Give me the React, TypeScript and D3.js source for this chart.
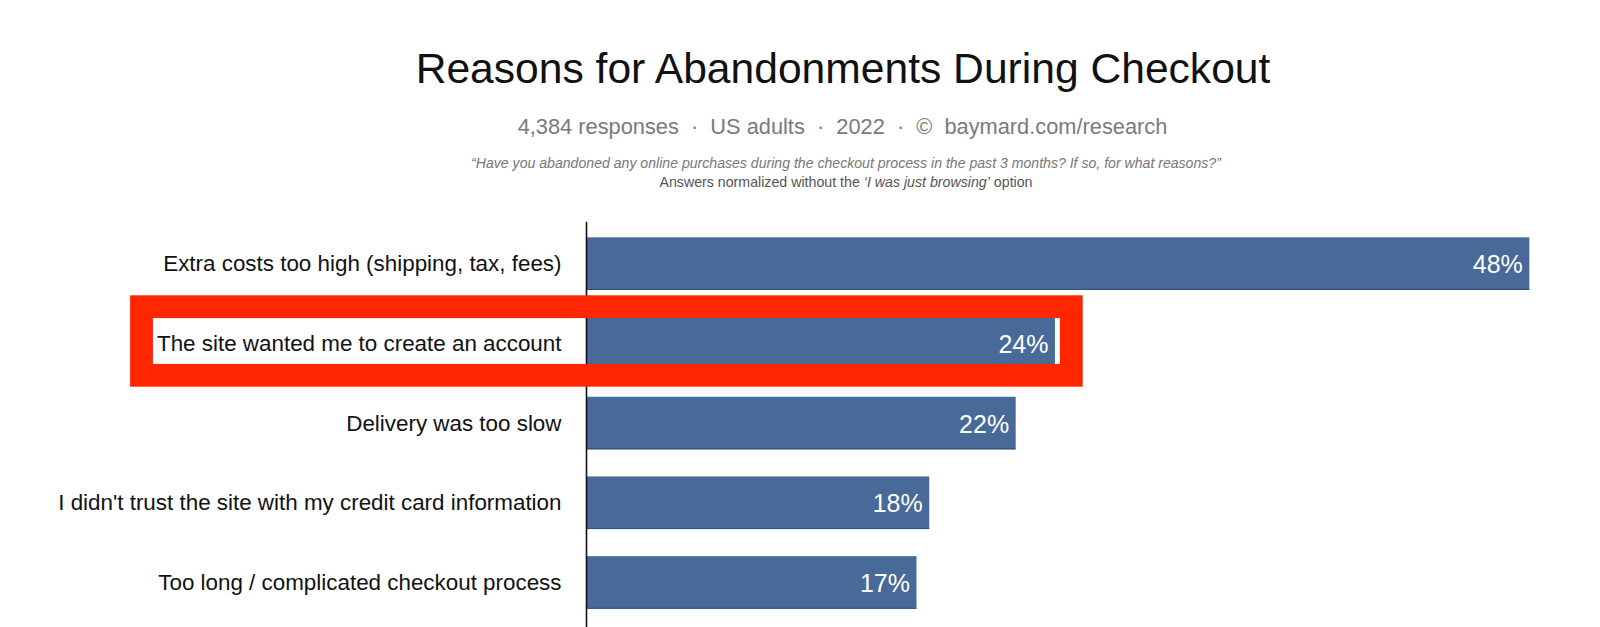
import React from "react";
import * as d3 from "d3";

const categories = [
  "Extra costs too high (shipping, tax, fees)",
  "The site wanted me to create an account",
  "Delivery was too slow",
  "I didn't trust the site with my credit card information",
  "Too long / complicated checkout process",
];
const values = [48, 23.85, 21.85, 17.45, 16.8];
const valueLabels = ["48%", "24%", "22%", "18%", "17%"];
const highlighted = "The site wanted me to create an account";

const title = "Reasons for Abandonments During Checkout";
const subtitle = "4,384 responses  ·  US adults  ·  2022  ·  ©  baymard.com/research";
const question =
  "\u201CHave you abandoned any online purchases during the checkout process in the past 3 months? If so, for what reasons?\u201D";

const W = 1600;
const H = 627;
const FONT = "'Liberation Sans', Arial, Helvetica, sans-serif";

export default function App() {
  const x = d3.scaleLinear().domain([0, 48]).range([586.5, 1529.3]);
  const y = d3
    .scaleBand<string>()
    .domain(categories)
    .range([223.8, 622.3])
    .paddingInner(0.34)
    .paddingOuter(0.17);
  const bw = y.bandwidth();
  const hy = y(highlighted)!;

  return (
    <svg
      width={W}
      height={H}
      style={{ position: "fixed", left: 0, top: 0, background: "#fff" }}
      fontFamily={FONT}
    >
      <rect x={0} y={0} width={W} height={H} fill="#fff" />
      <text x={843} y={83} textAnchor="middle" fontSize={42.6} fill="#111">
        {title}
      </text>
      <text
        x={842.5}
        y={134}
        textAnchor="middle"
        fontSize={21.8}
        fill="#7a7a7a"
        style={{ whiteSpace: "pre" }}
      >
        {subtitle}
      </text>
      <text
        x={846}
        y={168}
        textAnchor="middle"
        fontSize={14.1}
        fontStyle="italic"
        fill="#777"
      >
        {question}
      </text>
      <text x={846} y={187} textAnchor="middle" fontSize={14.2} fill="#555">
        <tspan>Answers normalized without the </tspan>
        <tspan fontStyle="italic">{"\u2018I was just browsing\u2019"}</tspan>
        <tspan> option</tspan>
      </text>

      {categories.map((c, i) => {
        const yy = y(c)!;
        return (
          <g key={c}>
            <rect
              x={x(0)}
              y={yy}
              width={x(values[i]) - x(0)}
              height={bw}
              fill="#476a98"
            />
            <line
              x1={x(0)}
              x2={x(values[i])}
              y1={yy + bw - 0.5}
              y2={yy + bw - 0.5}
              stroke="#2f4d75"
              strokeWidth={1}
            />
            <text
              x={x(values[i]) - 6.5}
              y={yy + bw / 2 + 9.5}
              textAnchor="end"
              fontSize={25}
              fill="#fff"
            >
              {valueLabels[i]}
            </text>
            <text
              x={561.5}
              y={yy + bw / 2 + 7.5}
              textAnchor="end"
              fontSize={22.4}
              fill="#111"
            >
              {c}
            </text>
          </g>
        );
      })}

      <rect
        x={x(values[1]) + 0.5}
        y={hy + 3}
        width={3}
        height={bw - 6}
        fill="#fff"
      />

      <line x1={x(0)} x2={x(0)} y1={221.7} y2={H} stroke="#111" strokeWidth={1.6} />

      <rect
        x={141.5}
        y={306.7}
        width={929.8}
        height={68.6}
        fill="none"
        stroke="#ff2600"
        strokeWidth={22.8}
      />
    </svg>
  );
}
